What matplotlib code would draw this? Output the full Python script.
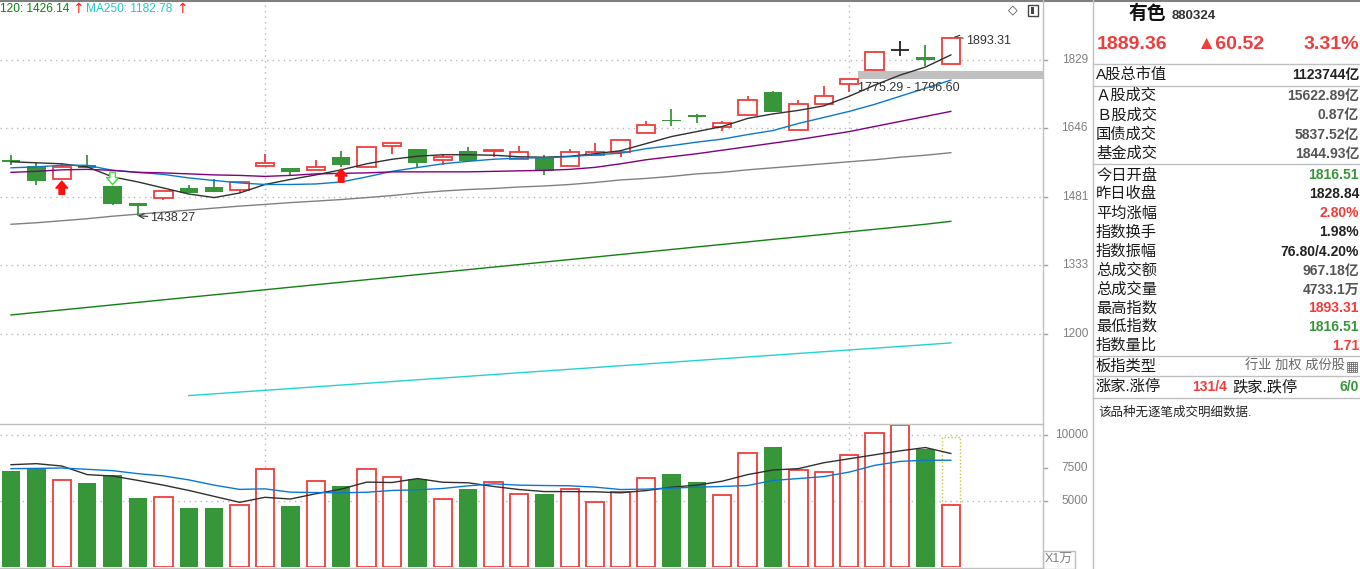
import math
import matplotlib
matplotlib.use("Agg")
import matplotlib.pyplot as plt
from matplotlib.patches import Rectangle
from matplotlib.lines import Line2D
from matplotlib.transforms import blended_transform_factory, offset_copy

plt.rcParams['font.family'] = ['Liberation Sans', 'Noto Sans CJK SC', 'DejaVu Sans']

# ---------------------------------------------------------------------------
# data
# ---------------------------------------------------------------------------
opens = [1567.8, 1553.3, 1523.0, 1555.7, 1505.8, 1467.4, 1477.4, 1501.2, 1503.5, 1495.4,
         1552.5, 1548.5, 1542.9, 1575.1, 1550.1, 1601.4, 1594.8, 1567.1, 1589.8, 1588.1,
         1569.5, 1575.1, 1552.5, 1580.0, 1586.6, 1634.0, 1665.5, 1679.2, 1648.3, 1680.3,
         1739.4, 1641.7, 1709.2, 1760.3, 1801.0, 1856.4, 1837.2, 1816.51]
closes = [1563.0, 1517.5, 1550.8, 1547.7, 1465.1, 1460.5, 1494.2, 1490.7, 1492.6, 1514.5,
          1559.8, 1539.6, 1550.1, 1556.4, 1599.0, 1608.9, 1559.8, 1574.4, 1563.7, 1592.3,
          1586.6, 1541.3, 1586.6, 1586.6, 1616.4, 1654.4, 1663.0, 1674.0, 1659.6, 1719.8,
          1687.1, 1709.2, 1730.5, 1775.29, 1849.8, 1856.4, 1828.84, 1889.36]
highs = [1580.0, 1561.2, 1557.4, 1580.0, 1505.8, 1467.4, 1494.2, 1508.2, 1521.5, 1517.5,
         1582.4, 1548.5, 1567.8, 1589.8, 1599.0, 1608.9, 1594.8, 1581.7, 1599.7, 1592.3,
         1602.2, 1580.0, 1594.8, 1609.6, 1616.4, 1663.0, 1694.2, 1681.9, 1663.0, 1728.6,
         1742.6, 1717.9, 1756.5, 1775.29, 1853.5, 1883.4, 1870.9, 1893.31]
lows = [1555.7, 1507.5, 1523.0, 1547.7, 1462.1, 1438.27, 1474.2, 1490.7, 1492.6, 1489.6,
        1552.5, 1531.7, 1542.9, 1551.6, 1550.1, 1580.7, 1549.2, 1556.4, 1563.7, 1573.4,
        1569.5, 1532.5, 1552.5, 1580.0, 1573.4, 1634.0, 1650.8, 1658.5, 1639.9, 1680.3,
        1687.1, 1641.7, 1709.2, 1740.2, 1796.60, 1839.2, 1811.8, 1816.51]

ma5 = [1563.0, 1560.5, 1558.1, 1550.8, 1527.0, 1515.2, 1501.2, 1487.3, 1479.2, 1489.6,
       1509.3, 1521.1, 1531.7, 1543.7, 1558.1, 1569.0, 1576.3, 1580.0, 1580.0, 1578.8,
       1575.1, 1573.9, 1576.3, 1582.4, 1589.8, 1607.2, 1624.7, 1637.3, 1650.1, 1670.7,
       1682.4, 1691.5, 1703.4, 1728.6, 1758.4, 1785.8, 1808.1, 1842.1]
ma10 = [1548.5, 1550.8, 1554.5, 1554.5, 1542.5, 1537.7, 1532.9, 1524.6, 1518.7, 1512.9,
        1509.3, 1509.3, 1510.5, 1515.2, 1527.0, 1540.1, 1549.2, 1558.1, 1564.1, 1569.0,
        1571.9, 1572.6, 1575.1, 1580.0, 1583.7, 1594.8, 1602.2, 1610.9, 1618.4, 1629.7,
        1639.9, 1657.8, 1673.3, 1688.9, 1707.3, 1728.6, 1750.2, 1772.1]
ma20 = [1537.7, 1540.1, 1543.7, 1544.8, 1542.5, 1537.7, 1536.5, 1534.1, 1531.7, 1530.5,
        1528.2, 1530.5, 1534.1, 1535.3, 1536.5, 1538.9, 1538.9, 1538.9, 1538.9, 1540.1,
        1541.3, 1542.5, 1544.8, 1549.6, 1558.1, 1567.8, 1575.1, 1582.4, 1591.0, 1599.7,
        1608.4, 1617.2, 1627.2, 1637.3, 1650.1, 1663.0, 1675.9, 1688.9]
ma60 = [1419.7, 1423.0, 1427.4, 1431.9, 1437.4, 1441.9, 1446.4, 1450.9, 1455.4, 1459.9,
        1463.7, 1467.8, 1471.2, 1474.7, 1479.2, 1483.8, 1489.6, 1494.2, 1497.7, 1500.0,
        1503.5, 1505.8, 1509.3, 1514.0, 1519.9, 1523.4, 1528.2, 1534.1, 1537.7, 1543.7,
        1548.5, 1553.3, 1558.1, 1563.0, 1567.8, 1573.9, 1578.8, 1584.9]
ma120 = [1234.8, 1239.6, 1244.4, 1249.2, 1254.1, 1259.0, 1263.9, 1268.8, 1273.7, 1278.6,
         1283.6, 1288.6, 1293.6, 1298.6, 1303.6, 1308.7, 1313.8, 1318.9, 1324.0, 1329.2,
         1334.3, 1339.5, 1344.7, 1349.9, 1355.2, 1360.4, 1365.7, 1371.0, 1376.3, 1381.7,
         1387.1, 1392.4, 1397.8, 1403.3, 1408.7, 1414.2, 1419.7, 1426.14]
ma250 = [None] * 7 + [1090.8, 1093.7, 1096.7, 1099.6, 1102.6, 1105.6, 1108.6, 1111.6, 1114.6,
                      1117.6, 1120.6, 1123.6, 1126.7, 1129.7, 1132.8, 1135.8, 1138.9, 1142.0,
                      1145.1, 1148.2, 1151.3, 1154.4, 1157.5, 1160.6, 1163.8, 1166.9, 1170.1,
                      1173.2, 1176.4, 1179.6, 1182.78]

volumes = [7245, 7500, 6607, 6327, 6939, 5255, 5306, 4490, 4490, 4694,
           7449, 4643, 6531, 6173, 7449, 6837, 6658, 5153, 5944, 6454,
           5536, 5561, 5918, 4949, 5689, 6760, 7015, 6403, 5459, 8673,
           9082, 7321, 7219, 8469, 10128, 10740, 8929, 4733.1]
vol_forecast = 9820
vol_ma5 = [7750, 7830, 7650, 7000, 6890, 6560, 6200, 5800, 5350, 4900,
           5280, 5150, 5550, 5900, 6430, 6400, 6700, 6420, 6380, 6100,
           5870, 5714, 5714, 5700, 5620, 5790, 6046, 6200, 6500, 7000,
           7350, 7450, 7900, 8200, 8500, 8800, 9050, 8600]
vol_ma10 = [7450, 7470, 7500, 7400, 7300, 7070, 6900, 6600, 6200, 5880,
            5920, 5670, 5640, 5620, 5663, 5800, 5850, 5950, 6150, 6300,
            6200, 6173, 6150, 6050, 5870, 5900, 5980, 6046, 6100, 6173,
            6560, 6700, 6850, 7190, 7700, 8000, 8090, 8087]

price_ticks = [1200, 1333, 1481, 1646, 1829]
vol_ticks = [5000, 7500, 10000]
month_marks = [10, 33]
gap_low, gap_high = 1775.29, 1796.60
buy_marks = [2, 13]
sell_marks = [4]

info_labels = ["A股总市值", "Ａ股成交", "Ｂ股成交", "国债成交", "基金成交",
               "今日开盘", "昨日收盘", "平均涨幅", "指数换手", "指数振幅",
               "总成交额", "总成交量", "最高指数", "最低指数", "指数量比"]
info_values = ["1123744亿", "15622.89亿", "0.87亿", "5837.52亿", "1844.93亿",
               "1816.51", "1828.84", "2.80%", "1.98%", "76.80/4.20%",
               "967.18亿", "4733.1万", "1893.31", "1816.51", "1.71"]

# ---------------------------------------------------------------------------
# style
# ---------------------------------------------------------------------------
W, H = 1360, 569
RED = "#f03c3c"
GREEN = "#38963a"
GRID = "#b8b8b8"
BORDER = "#c0c0c0"
DARK = "#222222"
GRAY = "#555555"
info_colors = [DARK, GRAY, GRAY, GRAY, GRAY, GREEN, DARK, RED, DARK, DARK,
               GRAY, GRAY, RED, GREEN, RED]
info_y = [74.5, 96, 115.5, 135, 154, 175, 194, 213.3, 232.5, 251.7,
          270.5, 290, 308.5, 327, 346]

X0_PX, XSTEP_PX = 11, 25.4       # candle centre of index 0, spacing
AX_RIGHT = 1043


def rect(x0, y0, x1, y1):
    return [x0 / W, 1 - y1 / H, (x1 - x0) / W, (y1 - y0) / H]


def ftext(x, y, s, **kw):
    kw.setdefault("va", "center")
    fig.text(x / W, 1 - y / H, s, **kw)


def fline(x0, y0, x1, y1, **kw):
    fig.add_artist(Line2D([x0 / W, x1 / W], [1 - y0 / H, 1 - y1 / H], **kw))


fig = plt.figure(figsize=(W / 100, H / 100), dpi=100)
fig.patch.set_facecolor("white")

xlim = (-X0_PX / XSTEP_PX, (AX_RIGHT - X0_PX) / XSTEP_PX)
idx = list(range(len(closes)))
bw = 0.72

# ---------------------------------------------------------------------------
# price panel
# ---------------------------------------------------------------------------
P_TOP, P_BOT = 0, 423
ax = fig.add_axes(rect(0, P_TOP, AX_RIGHT, P_BOT))
ax.set_yscale("log")
k, yref = 650.0, 59.6
ax.set_ylim(1829 * math.exp(-(P_BOT - yref) / k), 1829 * math.exp(yref / k))
ax.set_xlim(*xlim)
for s in ax.spines.values():
    s.set_visible(False)
ax.set_xticks([])
ax.set_yticks([])
ax.minorticks_off()

for p in price_ticks:
    ax.axhline(p, color=GRID, lw=1, ls=(0, (1, 3)), zorder=0)
for m in month_marks:
    ax.axvline(m, color=GRID, lw=1, ls=(0, (1, 3)), zorder=0)

# gap band
ax.add_patch(Rectangle(((858 - X0_PX) / XSTEP_PX, gap_low), xlim[1], gap_high - gap_low,
                       facecolor="#c0c0c0", edgecolor="none", zorder=1))

for i in idx:
    o, c, h, l = opens[i], closes[i], highs[i], lows[i]
    top, bot = max(o, c), min(o, c)
    if c > o:
        col = RED
        ax.bar(i, top - bot, bottom=bot, width=bw, facecolor="white", edgecolor=col, lw=1.3, zorder=4)
        if h > top:
            ax.vlines(i, top, h, color=col, lw=1.3, zorder=4)
        if l < bot:
            ax.vlines(i, l, bot, color=col, lw=1.3, zorder=4)
    elif c < o:
        col = GREEN
        ax.vlines(i, l, h, color=col, lw=1.3, zorder=4)
        ax.bar(i, top - bot, bottom=bot, width=bw, color=col, zorder=4)
    else:
        col = "#222222"
        ax.vlines(i, l, h, color=col, lw=1.3, zorder=4)
        ax.hlines(c, i - bw / 2, i + bw / 2, color=col, lw=1.3, zorder=4)

ax.plot(idx, ma5, color="#303030", lw=1.0, zorder=5)
ax.plot(idx, ma10, color="#0a78d2", lw=1.0, zorder=5)
ax.plot(idx, ma20, color="#800080", lw=1.0, zorder=5)
ax.plot(idx, ma60, color="#808080", lw=1.0, zorder=3)
ax.plot(idx, ma120, color="#118011", lw=1.0, zorder=3)
ax.plot(idx, [v if v is not None else float("nan") for v in ma250], color="#22d2d2", lw=1.0, zorder=3)

# signal arrows (buy: solid red up, sell: hollow green down)
arrow_style = "simple,head_width=0.85,head_length=0.5,tail_width=0.4"
for i in buy_marks:
    tip = offset_copy(ax.transData, fig=fig, x=0, y=-1.8, units="points")
    ax.annotate("", xy=(i, lows[i]), xycoords=tip, xytext=(0, -9.5), textcoords="offset points",
                arrowprops=dict(arrowstyle=arrow_style, fc="#ff1010", ec="#ff1010",
                                shrinkA=0, shrinkB=0), zorder=6)
for i in sell_marks:
    tip = offset_copy(ax.transData, fig=fig, x=0, y=1.0, units="points")
    ax.annotate("", xy=(i, highs[i]), xycoords=tip, xytext=(0, 9), textcoords="offset points",
                arrowprops=dict(arrowstyle=arrow_style, fc="white", ec="#33dd33", lw=1,
                                shrinkA=0, shrinkB=0), zorder=6)

# extreme labels
lo_i = lows.index(min(lows))
hi_i = highs.index(max(highs))
ax.annotate(f"{lows[lo_i]:.2f}", xy=(lo_i, lows[lo_i]), xytext=(9, -1.5), textcoords="offset points",
            ha="left", va="center", fontsize=9, color="#333333",
            arrowprops=dict(arrowstyle="->", color="#333333", lw=0.8, shrinkA=0, shrinkB=0))
ax.annotate(f"{highs[hi_i]:.2f}", xy=(hi_i + 0.1, highs[hi_i]), xytext=(9, -2.5), textcoords="offset points",
            ha="left", va="center", fontsize=9, color="#333333",
            arrowprops=dict(arrowstyle="->", color="#333333", lw=0.8, shrinkA=0, shrinkB=0))
ax.annotate(f"{gap_low:.2f} - {gap_high:.2f}", xy=((858 - X0_PX) / XSTEP_PX, gap_low),
            xytext=(0, -2), textcoords="offset points",
            ha="left", va="top", fontsize=9, color="#333333", zorder=6)

trans_p = blended_transform_factory(fig.transFigure, ax.transData)
for p in price_ticks:
    ax.text(1088 / W, p, str(p), transform=trans_p, ha="right", va="center",
            fontsize=8.5, color="#808080", clip_on=False)
    ax.plot([AX_RIGHT / W, (AX_RIGHT + 4) / W], [p, p], transform=trans_p,
            color="#a0a0a0", lw=1, clip_on=False)

# ---------------------------------------------------------------------------
# volume panel
# ---------------------------------------------------------------------------
V_TOP, V_BOT = 425, 567
vax = fig.add_axes(rect(0, V_TOP, AX_RIGHT, V_BOT))
vax.set_xlim(*xlim)
vax.set_ylim(0, (V_BOT - V_TOP) * 75.76)
for s in vax.spines.values():
    s.set_visible(False)
vax.set_xticks([])
vax.set_yticks([])
for v in [5000, 10000]:
    vax.axhline(v, color=GRID, lw=1, ls=(0, (1, 3)), zorder=0)
for m in month_marks:
    vax.axvline(m, color=GRID, lw=1, ls=(0, (1, 3)), zorder=0)

for i in idx:
    if closes[i] >= opens[i]:
        vax.bar(i, volumes[i], width=bw, facecolor="white", edgecolor=RED, lw=1.3, zorder=3)
    else:
        vax.bar(i, volumes[i], width=bw, color=GREEN, zorder=3)
last = idx[-1]
vax.add_patch(Rectangle((last - bw / 2, volumes[last]), bw, vol_forecast - volumes[last],
                        facecolor="none", edgecolor="#c8c040", lw=1, ls=(0, (1, 1.5)), zorder=2))
vax.plot(idx, vol_ma5, color="#303030", lw=1.0, zorder=4)
vax.plot(idx, vol_ma10, color="#0a78d2", lw=1.0, zorder=4)

trans_v = blended_transform_factory(fig.transFigure, vax.transData)
for v in vol_ticks:
    vax.text(1088 / W, v, str(v), transform=trans_v, ha="right", va="center",
             fontsize=8.5, color="#808080", clip_on=False)
    vax.plot([AX_RIGHT / W, (AX_RIGHT + 4) / W], [v, v], transform=trans_v,
             color="#a0a0a0", lw=1, clip_on=False)

# ---------------------------------------------------------------------------
# frame lines, legend text, icons
# ---------------------------------------------------------------------------
fline(0, 0.5, W, 0.5, color="#808080", lw=1.5)
fline(AX_RIGHT, 0, AX_RIGHT, H, color=BORDER, lw=1)
fline(1093, 0, 1093, H, color=BORDER, lw=1)
fline(0, 424, AX_RIGHT, 424, color=BORDER, lw=1)
fline(0, 567.5, AX_RIGHT, 567.5, color=BORDER, lw=1)

ftext(0, 9, "120: 1426.14", ha="left", fontsize=8.6, color="#118011")
ftext(72, 9, "\u2191", ha="left", fontsize=10, color="#ff2020", family="DejaVu Sans")
ftext(86, 9, "MA250: 1182.78", ha="left", fontsize=8.6, color="#22c8c8")
ftext(176, 9, "\u2191", ha="left", fontsize=10, color="#ff2020", family="DejaVu Sans")
ftext(1013, 10, "\u25c7", ha="center", fontsize=9, color="#444444", family="DejaVu Sans")
fig.add_artist(Rectangle((1028 / W, 1 - 16 / H), 10 / W, 11 / H, transform=fig.transFigure,
                         facecolor="white", edgecolor="#444444", lw=1))
fig.add_artist(Rectangle((1031 / W, 1 - 14 / H), 3 / W, 7 / H, transform=fig.transFigure,
                         facecolor="#444444", edgecolor="none"))

fig.add_artist(Rectangle((1043 / W, 0), 32 / W, 18 / H, transform=fig.transFigure,
                         facecolor="white", edgecolor=BORDER, lw=1))
ftext(1059, 560, "X1万", ha="center", fontsize=9, color="#808080")

# ---------------------------------------------------------------------------
# right info panel
# ---------------------------------------------------------------------------
ftext(1129, 14, "有色", ha="left", fontsize=13.5, fontweight="bold", color="#111111")
ftext(1172, 16, "880324", ha="left", fontsize=9.5, fontweight="bold", color="#333333")
ftext(1097, 44.5, "1889.36", ha="left", fontsize=14, fontweight="bold", color=RED)
ftext(1196, 44.5, "▲60.52", ha="left", fontsize=14, fontweight="bold", color=RED)
ftext(1359, 44.5, "3.31%", ha="right", fontsize=14, fontweight="bold", color=RED)

for yy in [63.5, 85.5, 164, 356, 376]:
    fline(1093, yy, W, yy, color=BORDER, lw=1)
fline(1093, 397.5, W, 397.5, color=BORDER, lw=1)

for lab, val, col, yy in zip(info_labels, info_values, info_colors, info_y):
    ftext(1096, yy, lab, ha="left", fontsize=11, color="#1a1a1a")
    ftext(1359, yy, val, ha="right", fontsize=10, fontweight="bold", color=col)

ftext(1096, 366.5, "板指类型", ha="left", fontsize=11, color="#1a1a1a")
ftext(1345, 366.5, "行业 加权 成份股", ha="right", fontsize=9.5, color="#666666")
ftext(1359, 366.5, "\u25a6", ha="right", fontsize=10, color="#666666", family="DejaVu Sans")

ftext(1096, 387, "涨家.涨停", ha="left", fontsize=11, color="#1a1a1a")
ftext(1192, 387, "131/4", ha="left", fontsize=10, fontweight="bold", color=RED)
ftext(1232, 387, "跌家.跌停", ha="left", fontsize=11, color="#1a1a1a")
ftext(1359, 387, "6/0", ha="right", fontsize=10, fontweight="bold", color=GREEN)

ftext(1098, 413, "该品种无逐笔成交明细数据.", ha="left", fontsize=9, color="#222222")

fig.savefig("out.png", dpi=100, facecolor="white")
